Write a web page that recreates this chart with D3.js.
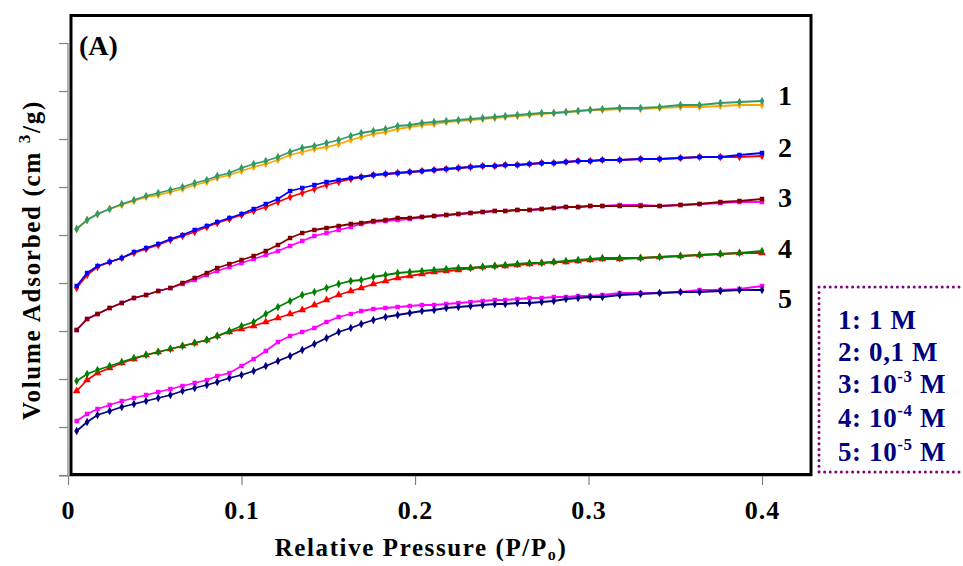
<!DOCTYPE html>
<html><head><meta charset="utf-8">
<script src="https://cdn.jsdelivr.net/npm/d3@7"></script>
<style>
html,body{margin:0;padding:0;background:#fff;}
svg{display:block;}
text{font-family:"Liberation Serif","Times New Roman",serif;font-weight:bold;}
</style></head>
<body>
<svg id="chart" width="963" height="566"></svg>
<script>
// Relative pressure P/Po for every measured point
const pressure = [0.005,0.011,0.017,0.024,0.031,0.038,0.045,0.052,0.059,0.066,
  0.073,0.080,0.086,0.093,0.100,0.107,0.114,0.121,0.128,0.135,
  0.142,0.149,0.156,0.163,0.169,0.176,0.183,0.190,0.197,0.204,
  0.211,0.218,0.225,0.232,0.239,0.246,0.252,0.259,0.266,0.273,
  0.280,0.287,0.294,0.301,0.308,0.318,0.330,0.341,0.353,0.364,0.376,0.387,0.400];

// Volume adsorbed (arbitrary units, axis unlabeled)
const s1a = [246,255,261,266,271,275,279,282,285,288, 292,295,299,302,307,311,314,318,323,327,
  329,332,335,339,342,344,346,349,350,352, 353,354,355,356,357,358,359,360,361,362,
  362,363,364,365,366, 367,367,368,370,370,372,373,374];
const s1b = [246,255,261,266,270,274,278,280,283,286, 290,293,297,300,304,308,311,315,320,323,
  326,328,331,335,338,341,343,346,348,350, 351,353,354,355,356,357,358,359,360,361,
  362,363,364,365,365, 366,366,367,368,368,369,370,370];
const s2a = [189,202,209,213,217,223,227,231,236,240, 245,249,253,257,261,266,271,276,284,287,
  290,293,295,297,298,300,301,302,303,304, 305,306,307,308,309,309,310,310,311,312,
  312,313,314,314,315, 315,316,316,317,318,318,320,322];
const s2b = [187,200,208,213,217,222,226,230,235,239, 243,248,252,256,260,264,268,273,278,282,
  286,290,293,296,298,300,301,302,303,304, 305,306,307,308,309,309,310,310,311,312,
  312,313,314,314,315, 315,316,316,317,318,318,318,319];
const s3a = [145,156,161,167,172,177,180,184,187,192, 197,202,207,211,215,219,224,230,237,242,
  245,247,249,251,252,254,255,257,257,258, 259,260,261,262,263,264,264,265,265,266,
  267,268,268,269,269, 269,269,269,270,271,273,274,276];
const s3b = [145,156,161,167,172,177,180,184,187,191, 195,200,204,208,212,216,220,224,229,234,
  239,242,245,248,251,253,254,255,256,258, 259,260,261,262,263,264,264,265,265,266,
  267,268,268,269,269, 270,270,269,270,271,272,273,273];
const s4a = [94,101,105,109,113,117,120,123,126,129, 132,135,139,144,149,153,161,168,174,180,
  183,187,191,194,195,198,200,202,203,204, 205,206,207,207,208,209,210,211,212,212,
  213,214,215,216,217, 217,217,218,219,220,221,222,224];
const s4b = [84,95,102,107,112,116,120,123,126,129, 132,135,139,143,146,149,153,157,161,165,
  170,175,180,184,187,191,194,197,199,201, 203,204,205,207,208,209,209,210,211,212,
  213,213,214,215,216, 216,217,218,219,220,221,222,222];
const s5a = [54,61,66,70,74,77,80,83,86,89, 92,95,99,102,109,116,124,133,139,143,
  147,153,158,161,164,166,167,168,169,170, 170,171,172,173,174,175,175,176,177,177,
  178,178,179,179,180, 182,182,182,183,185,185,186,189];
const s5b = [44,53,60,64,68,71,74,77,80,84, 87,90,93,97,100,104,109,114,119,125,
  131,137,143,147,151,155,158,160,162,164, 165,167,168,169,170,171,171,172,172,173,
  174,176,177,178,178, 180,181,182,183,183,184,185,185];

const xTicks = [0, 0.1, 0.2, 0.3, 0.4];
const xTickLabels = ["0", "0.1", "0.2", "0.3", "0.4"];
const yTicks = [0,48,96,144,192,240,288,336,384,432];
const curveLabels = ["1","2","3","4","5"];
const curveLabelValues = [372, 320, 270, 219, 169];
const legendItems = [
  {pre:"1: 1 M"}, {pre:"2: 0,1 M"},
  {pre:"3: 10", sup:"-3", post:" M"}, {pre:"4: 10", sup:"-4", post:" M"}, {pre:"5: 10", sup:"-5", post:" M"}];

const series = [
  {data:s1b, color:"#FFA500", shape:d3.symbolDiamond},
  {data:s1a, color:"#339966", shape:d3.symbolDiamond},
  {data:s2b, color:"#FF0000", shape:d3.symbolDiamond},
  {data:s2a, color:"#0000FF", shape:d3.symbolSquare},
  {data:s3b, color:"#FF00FF", shape:d3.symbolSquare},
  {data:s3a, color:"#800000", shape:d3.symbolSquare},
  {data:s4b, color:"#FF0000", shape:d3.symbolTriangle},
  {data:s4a, color:"#008000", shape:d3.symbolDiamond},
  {data:s5a, color:"#FF00FF", shape:d3.symbolSquare},
  {data:s5b, color:"#000080", shape:d3.symbolDiamond}
];

const svg = d3.select("#chart");
const x = d3.scaleLinear().domain([0, 0.4]).range([68, 762]);
const y = d3.scaleLinear().domain([0, 460]).range([475, 15]);

// gray axes
const yAxis = d3.axisLeft(y).tickValues(yTicks).tickSize(9).tickFormat("");
const gy = svg.append("g").attr("transform","translate(68,0)").call(yAxis);
gy.select(".domain").attr("d", `M0,${y(432)}V${y(0)}`);
gy.selectAll("line,path").attr("stroke","#808080").attr("stroke-width",1.2);

const xAxis = d3.axisBottom(x).tickValues(xTicks).tickSize(9).tickFormat((d,i)=>xTickLabels[i]).tickPadding(16);
const gx = svg.append("g").attr("transform","translate(0,476)").call(xAxis);
gx.select(".domain").attr("d", `M59,0H812`);
gx.selectAll("line,path").attr("stroke","#808080").attr("stroke-width",1.2);
gx.selectAll("text").attr("font-size",26).attr("letter-spacing","1px").attr("fill","#000")
  .attr("font-family","'Liberation Serif',serif").attr("font-weight","bold");

// frame
svg.append("rect").attr("x",71).attr("y",15.5).attr("width",740).attr("height",459)
  .attr("fill","none").attr("stroke","#000").attr("stroke-width",3);

// curves
const line = d3.line().x((d,i)=>x(pressure[i])).y(d=>y(d));
series.forEach(s=>{
  svg.append("path").datum(s.data).attr("d",line).attr("fill","none")
    .attr("stroke",s.color).attr("stroke-width",1.8);
  const sym = d3.symbol().type(s.shape).size(s.shape===d3.symbolTriangle?26:20);
  svg.append("g").selectAll("path").data(s.data).join("path")
    .attr("d",sym).attr("fill",s.color)
    .attr("transform",(d,i)=>`translate(${x(pressure[i])},${y(d)})`);
});

// curve numbers
svg.append("g").selectAll("text").data(curveLabels).join("text")
  .attr("x",785).attr("y",(d,i)=>y(curveLabelValues[i])+2)
  .attr("text-anchor","middle").attr("font-size",28).text(d=>d);

// panel tag
svg.append("text").attr("x",79).attr("y",55).attr("font-size",28).text("(A)");

// axis titles
const xt = svg.append("text").attr("x",421).attr("y",556).attr("text-anchor","middle")
  .attr("font-size",25).attr("letter-spacing","1.6px");
xt.append("tspan").text("Relative Pressure (P/P");
xt.append("tspan").attr("font-size",16).attr("dy",4).text("o");
xt.append("tspan").attr("dy",-4).text(")");

const yt = svg.append("text").attr("transform","translate(40,260) rotate(-90)")
  .attr("text-anchor","middle").attr("font-size",25).attr("letter-spacing","1.7px");
yt.append("tspan").text("Volume Adsorbed (cm  ");
yt.append("tspan").attr("font-size",17).attr("dy",-10).text("3");
yt.append("tspan").attr("dy",10).text("/g)");

// legend box
svg.append("path").attr("d","M819,287H966M819,287V472M819,472H966")
  .attr("fill","none").attr("stroke","#800080").attr("stroke-width",3)
  .attr("stroke-linecap","round").attr("stroke-dasharray","0 5.6");
const lg = svg.append("g").attr("fill","#000080");
legendItems.forEach((it,i)=>{
  const t = lg.append("text").attr("x",838).attr("y",[329,361,393,427,461][i])
    .attr("font-size",27).attr("letter-spacing","0.6px");
  t.append("tspan").text(it.pre);
  if(it.sup){
    t.append("tspan").attr("font-size",17).attr("dy",-11).text(it.sup);
    t.append("tspan").attr("dy",11).text(it.post);
  }
});
</script>
</body></html>
